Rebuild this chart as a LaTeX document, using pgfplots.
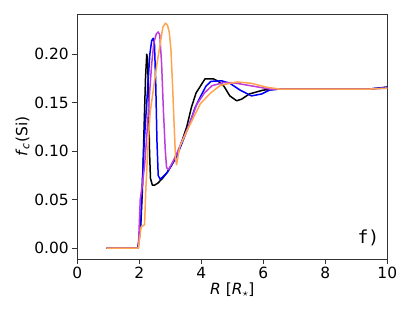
\documentclass[border=0pt]{standalone}
\usepackage{pgfplots}
\pgfplotsset{compat=1.18}
\usepackage{fontspec}
\setmainfont{DejaVu Sans}
\newfontfamily\monofont{DejaVu Sans Mono}
\definecolor{cmag}{RGB}{190,60,220}
\definecolor{corange}{RGB}{255,165,80}
\begin{document}
\begin{tikzpicture}
\begin{axis}[
  scale only axis, width=310bp, height=245bp,
  xmin=0, xmax=10, ymin=-0.0113, ymax=0.2415,
  xtick={0,2,4,6,8,10},
  ytick={0,0.05,0.10,0.15,0.20},
  yticklabel style={/pgf/number format/.cd, fixed, fixed zerofill, precision=2},
  /pgf/number format/assume math mode=true,
  tick align=outside, major tick length=5bp,
  xtick pos=left, ytick pos=left,
  tick style={black!80, line width=0.8bp},
  axis line style={black!80, line width=0.8bp},
  ticklabel style={font=\fontsize{15.5}{18}\selectfont},
  label style={font=\fontsize{15.5}{18}\selectfont},
  xlabel={\textit{R} [\textit{R}$_\star$]},
  ylabel={\textit{f}\textsubscript{\textit{c}}(Si)},
  xlabel style={yshift=3bp},
  ylabel style={yshift=-2bp},
  every axis plot/.append style={line width=1.5bp, line join=round, no markers},
]
\coordinate (bl) at (rel axis cs:0,0);
\coordinate (tr) at (rel axis cs:1,1);
\addplot[black] coordinates {(0.95,0)(1.95,0)(2.0,0.01)(2.05,0.025)(2.1,0.06)(2.15,0.12)(2.2,0.175)(2.24,0.200)(2.27,0.195)(2.30,0.15)(2.33,0.10)(2.36,0.072)(2.42,0.065)(2.5,0.065)(2.6,0.067)(2.75,0.072)(2.9,0.078)(3.05,0.086)(3.2,0.095)(3.35,0.108)(3.53,0.125)(3.68,0.145)(3.83,0.160)(3.95,0.166)(4.12,0.1746)(4.39,0.1746)(4.55,0.172)(4.73,0.167)(4.92,0.157)(5.14,0.152)(5.3,0.1536)(5.55,0.159)(6.0,0.163)(6.5,0.164)(9.4,0.164)(10,0.166)};
\addplot[blue] coordinates {(0.95,0)(1.96,0)(2.0,0.012)(2.05,0.03)(2.1,0.07)(2.16,0.11)(2.22,0.14)(2.28,0.17)(2.34,0.2)(2.40,0.214)(2.45,0.2165)(2.49,0.21)(2.53,0.17)(2.57,0.11)(2.61,0.075)(2.67,0.071)(2.78,0.074)(2.9,0.078)(3.05,0.086)(3.2,0.094)(3.4,0.11)(3.63,0.129)(3.8,0.145)(3.97,0.156)(4.15,0.167)(4.31,0.172)(4.66,0.1725)(4.92,0.17)(5.25,0.163)(5.62,0.157)(5.95,0.159)(6.2,0.163)(6.5,0.164)(9.4,0.164)(10,0.166)};
\addplot[cmag] coordinates {(0.95,0)(1.97,0)(2.0,0.025)(2.03,0.05)(2.1,0.066)(2.17,0.085)(2.24,0.115)(2.32,0.155)(2.40,0.19)(2.47,0.212)(2.55,0.221)(2.61,0.223)(2.66,0.22)(2.72,0.19)(2.78,0.14)(2.84,0.1)(2.88,0.083)(2.94,0.081)(3.05,0.087)(3.2,0.097)(3.4,0.112)(3.63,0.129)(3.85,0.148)(4.1,0.16)(4.35,0.1676)(4.72,0.1707)(4.94,0.1707)(5.14,0.170)(5.68,0.167)(6.22,0.164)(9.4,0.164)(10,0.165)};
\addplot[corange] coordinates {(0.95,0)(1.97,0)(2.02,0.012)(2.06,0.022)(2.17,0.024)(2.21,0.06)(2.27,0.10)(2.35,0.14)(2.46,0.165)(2.57,0.19)(2.68,0.212)(2.76,0.228)(2.84,0.232)(2.91,0.23)(2.97,0.222)(3.02,0.205)(3.07,0.17)(3.12,0.13)(3.17,0.092)(3.2,0.086)(3.31,0.105)(3.6,0.125)(3.97,0.149)(4.3,0.16)(4.62,0.168)(5.16,0.1714)(5.62,0.170)(6.1,0.166)(6.53,0.164)(9.4,0.164)(10,0.165)};
\node[font=\monofont\fontsize{18}{20}\selectfont, anchor=center] at (axis cs:9.39,0.011) {f)};
\end{axis}
\pgfresetboundingbox
\path ([shift={(-77.3bp,-54.7bp)}]bl) rectangle ([shift={(19.7bp,14bp)}]tr);
\end{tikzpicture}
\end{document}
